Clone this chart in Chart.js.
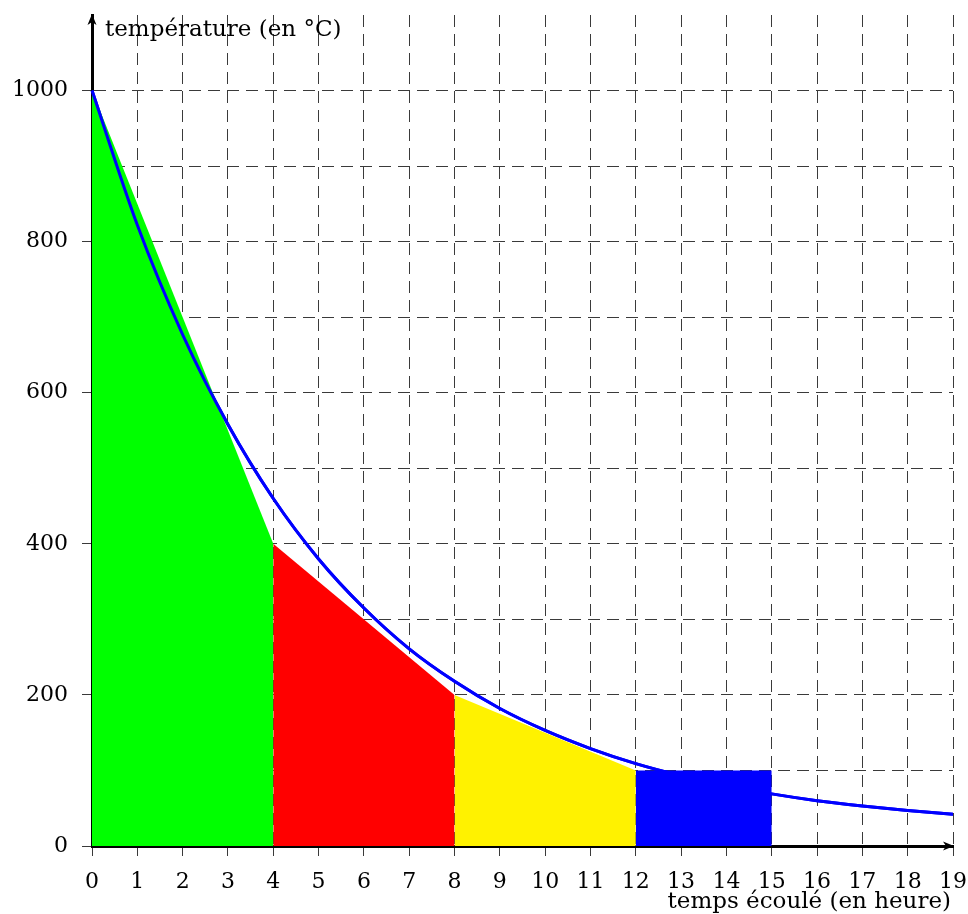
<!DOCTYPE html>
<html><head><meta charset="utf-8">
<script src="https://cdn.jsdelivr.net/npm/chart.js@4.4.1/dist/chart.umd.min.js"></script>
<style>html,body{margin:0;padding:0;background:#fff;} #wrap{width:968px;height:914px;}</style>
</head><body><div id="wrap"><canvas id="c" width="968" height="914"></canvas></div>
<script>
// ---- data ----
const hours = [0,1,2,3,4,5,6,7,8,9,10,11,12,13,14,15,16,17,18,19];
const temperature = [1000,822,677,558,460,380,315,261,218,182,153,129,109,93,80,69,60,53,47,42];
const greenX = [0,4],  greenY = [1000,400];
const redX = [4,8],    redY = [400,200];
const yellowX = [8,12], yellowY = [200,100];
const blueX = [12,15], blueY = [100,100];
const yLabelValues = [0,200,400,600,800,1000];
const yAxisTitle = 'température (en °C)';
const xAxisTitle = 'temps écoulé (en heure)';

// ---- styles ----
const FONT = '"DejaVu Serif", serif';
const FSIZE = 22;
const TSIZE = 23;
const GRID = '#3a3a3a';

function pts(xs, ys){ return xs.map((x,i)=>({x:x, y:ys[i]})); }
function zone(xs, ys, color){
  return {type:'line', data:pts(xs,ys), fill:'origin', backgroundColor:color, borderColor:color,
          borderWidth:0, pointRadius:0, tension:0};
}
function noPad(s){ s.paddingLeft = 0; s.paddingRight = 0; s.paddingTop = 0; s.paddingBottom = 0; }

const overlay = {
  id:'overlay',
  afterDraw(chart){
    const ctx = chart.ctx;
    const meta = chart.getDatasetMeta(4);
    ctx.save();
    meta.controller.draw();
    ctx.restore();
    const xs = chart.scales.x, ys = chart.scales.y;
    const x0 = xs.getPixelForValue(0), y0 = ys.getPixelForValue(0);
    const xEnd = xs.getPixelForValue(19), yTop = ys.getPixelForValue(1100);
    ctx.save();
    ctx.fillStyle = '#000';
    ctx.beginPath();
    ctx.moveTo(x0, yTop-1);
    ctx.lineTo(x0-4.5, yTop+10);
    ctx.lineTo(x0, yTop+7);
    ctx.lineTo(x0+4.5, yTop+10);
    ctx.closePath(); ctx.fill();
    ctx.beginPath();
    ctx.moveTo(xEnd+1, y0);
    ctx.lineTo(xEnd-10, y0-4.5);
    ctx.lineTo(xEnd-7, y0);
    ctx.lineTo(xEnd-10, y0+4.5);
    ctx.closePath(); ctx.fill();
    ctx.font = TSIZE + 'px ' + FONT;
    ctx.textBaseline = 'middle';
    ctx.textAlign = 'left';
    ctx.fillText(yAxisTitle, x0+13, yTop+15);
    ctx.textAlign = 'right';
    ctx.fillText(xAxisTitle, xEnd-2, 902);
    ctx.restore();
  }
};

new Chart(document.getElementById('c'), {
  type:'line',
  data:{
    datasets:[
      zone(greenX, greenY, '#00ff00'),
      zone(redX, redY, '#ff0000'),
      zone(yellowX, yellowY, '#fff200'),
      zone(blueX, blueY, '#0000ff'),
      {type:'line', data:pts(hours, temperature), borderColor:'#0000ff', borderWidth:3,
       pointRadius:0, fill:false, cubicInterpolationMode:'monotone'}
    ]
  },
  options:{
    responsive:false, animation:false, events:[],
    layout:{padding:{top:15, right:15, left:0, bottom:0}},
    plugins:{legend:{display:false}, tooltip:{enabled:false}},
    scales:{
      x:{
        type:'linear', min:0, max:19, z:1,
        afterFit(s){ s.height = 68; noPad(s); },
        afterBuildTicks(s){ s.ticks = hours.map(v=>({value:v})); },
        ticks:{autoSkip:false, maxRotation:0, padding:13, color:'#000', font:{family:FONT, size:FSIZE}},
        grid:{color:GRID, lineWidth:1, tickLength:10, tickColor:GRID, tickWidth:1},
        border:{display:true, color:'#000', width:3, dash:[12,7]}
      },
      y:{
        type:'linear', min:0, max:1100, z:1,
        afterFit(s){ s.width = 92; noPad(s); },
        ticks:{stepSize:100, padding:14, color:'#000', font:{family:FONT, size:FSIZE},
               callback:(v)=> yLabelValues.includes(v) ? String(v) : ''},
        grid:{
          color:(c)=> (c.tick && c.tick.value === 1100) ? 'rgba(0,0,0,0)' : GRID,
          tickColor:(c)=> (c.tick && yLabelValues.includes(c.tick.value)) ? GRID : 'rgba(0,0,0,0)',
          lineWidth:1, tickLength:10, tickWidth:1
        },
        border:{display:true, color:'#000', width:3, dash:[12,7]}
      }
    }
  },
  plugins:[overlay]
});
</script>
</body></html>
